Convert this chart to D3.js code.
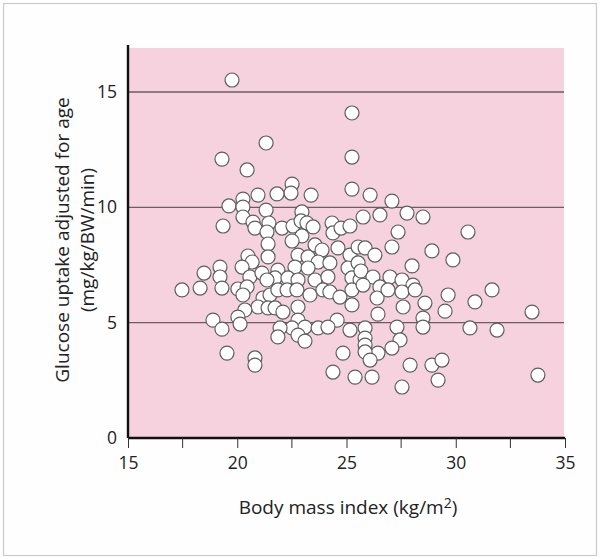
<!DOCTYPE html>
<html>
<head>
<meta charset="utf-8">
<script src="https://cdn.jsdelivr.net/npm/d3@7"></script>
<style>
  html, body { margin: 0; padding: 0; background: #ffffff; }
  svg { display: block; }
  text { font-family: "Open Sans", "DejaVu Sans", sans-serif; fill: #222; }
</style>
</head>
<body>
<script>
// Body mass index (kg/m²) of each subject
const bmi = [
  19.76, 25.25, 21.32, 25.25, 19.30, 20.45, 22.51, 22.46, 21.82, 20.95,
  23.38, 20.26, 25.25, 26.08, 27.08, 19.62, 20.26, 21.32, 22.96, 26.53,
  25.76, 27.77, 28.50, 20.26, 20.72, 21.45, 22.05, 22.55, 22.92, 23.19,
  23.47, 19.35, 24.34, 24.38, 24.75, 25.16, 20.81, 22.96, 30.56, 27.36,
  21.36, 22.51, 23.56, 23.88, 24.61, 25.16, 25.53, 21.41, 21.41, 22.78,
  23.24, 23.70, 24.24, 27.08, 25.85, 26.30, 28.91, 29.87, 20.49, 20.68,
  22.64, 21.86, 23.24, 25.07, 25.53, 21.73, 22.32, 22.78, 23.56, 24.15,
  25.25, 25.62, 28.00, 25.66, 26.21, 26.99, 27.54, 20.22, 19.21, 18.48,
  19.21, 20.58, 21.13, 21.36, 17.47, 18.30, 19.30, 20.03, 20.45, 20.26,
  21.18, 21.50, 21.86, 22.28, 22.73, 23.33, 23.92, 24.24, 24.70, 25.25,
  25.76, 26.53, 28.04, 26.40, 26.90, 27.54, 28.14, 29.65, 31.66, 30.88,
  20.95, 21.41, 21.73, 22.09, 22.78, 25.25, 27.59, 28.59, 29.51, 26.44,
  20.35, 20.03, 18.89, 22.78, 24.57, 28.50, 33.49, 20.13, 19.30, 22.51,
  21.96, 21.86, 23.10, 22.78, 23.10, 23.70, 24.15, 25.16, 28.50, 27.31,
  27.45, 25.85, 25.85, 25.85, 30.65, 31.89, 27.08, 26.44, 25.85, 26.08,
  24.84, 19.53, 20.81, 20.81, 24.38, 25.39, 26.17, 27.54, 27.91, 28.91,
  29.37, 29.19, 33.76
];

// Glucose uptake adjusted for age (mg/kg/BW/min), same subject order
const glucose = [
  15.52, 14.09, 12.79, 12.18, 12.09, 11.62, 11.01, 10.62, 10.58, 10.53,
  10.53, 10.36, 10.79, 10.53, 10.27, 10.06, 10.01, 9.88, 9.80, 9.67,
  9.58, 9.75, 9.58, 9.58, 9.36, 9.32, 9.10, 9.19, 9.41, 9.32,
  9.15, 9.19, 9.32, 8.89, 9.10, 9.19, 9.10, 8.76, 8.93, 8.93,
  8.93, 8.54, 8.37, 8.15, 8.24, 7.93, 8.28, 8.41, 7.85, 7.93,
  7.85, 7.63, 7.59, 8.28, 8.24, 7.93, 8.11, 7.72, 7.89, 7.63,
  7.41, 7.28, 7.37, 7.37, 7.59, 6.94, 6.94, 6.85, 6.85, 6.98,
  6.94, 6.85, 7.46, 7.24, 6.98, 6.98, 6.85, 7.41, 7.41, 7.15,
  6.98, 6.98, 7.15, 6.85, 6.42, 6.50, 6.50, 6.46, 6.55, 6.20,
  6.07, 6.20, 6.42, 6.42, 6.42, 6.20, 6.42, 6.33, 6.11, 6.42,
  6.63, 6.55, 6.63, 6.07, 6.42, 6.33, 6.42, 6.20, 6.42, 5.90,
  5.68, 5.64, 5.64, 5.46, 5.68, 5.77, 5.68, 5.85, 5.50, 5.37,
  5.55, 5.24, 5.11, 5.11, 5.11, 5.20, 5.46, 4.94, 4.72, 4.77,
  4.77, 4.38, 4.81, 4.46, 4.20, 4.77, 4.81, 4.68, 4.81, 4.81,
  4.25, 4.77, 4.33, 4.03, 4.77, 4.68, 3.90, 3.68, 3.73, 3.38,
  3.68, 3.68, 3.47, 3.16, 2.86, 2.64, 2.64, 2.21, 3.16, 3.16,
  3.38, 2.51, 2.73
];

const xTicks = [15, 20, 25, 30, 35];
const xMinorTicks = [17.5, 22.5, 27.5, 32.5];
const yTicks = [0, 5, 10, 15];
const gridValues = [5, 10, 15];

const W = 600, H = 559;
const plot = { left: 128, right: 564, top: 48, bottom: 438 };
const tickFont = 17.5, titleFont = 19;

const svg = d3.select("body").append("svg")
  .attr("width", W).attr("height", H);

// outer frame
svg.append("rect")
  .attr("x", 3.5).attr("y", 3.5)
  .attr("width", W - 7).attr("height", H - 7)
  .attr("fill", "#fefefe")
  .attr("stroke", "#c9c9c9").attr("stroke-width", 1.2);

const x = d3.scaleLinear().domain([15, 35]).range([plot.left, 565]);
const y = d3.scaleLinear().domain([0, 15]).range([plot.bottom, 92]);

// pink plotting area
svg.append("rect")
  .attr("x", plot.left).attr("y", plot.top)
  .attr("width", plot.right - plot.left).attr("height", plot.bottom - plot.top)
  .attr("fill", "#f6d2de");

// horizontal reference lines
svg.append("g").selectAll("line")
  .data(gridValues).join("line")
  .attr("x1", plot.left).attr("x2", plot.right)
  .attr("y1", d => y(d)).attr("y2", d => y(d))
  .attr("stroke", "#6e5c62").attr("stroke-width", 1.3);

// data points
svg.append("g").selectAll("circle")
  .data(bmi.map((b, i) => [b, glucose[i]]))
  .join("circle")
  .attr("cx", d => x(d[0])).attr("cy", d => y(d[1]))
  .attr("r", 7)
  .attr("fill", "#ffffff")
  .attr("stroke", "#5d5d5d").attr("stroke-width", 1.2);

// x axis
const xAxis = svg.append("g")
  .attr("transform", `translate(0,${plot.bottom})`)
  .call(d3.axisBottom(x).tickValues(xTicks).tickSize(10).tickPadding(9).tickFormat(d3.format("d")));
xAxis.select(".domain").attr("stroke", "#111").attr("stroke-width", 2.4)
  .attr("d", `M${plot.left},0H565`);
xAxis.selectAll(".tick line").attr("stroke", "#333").attr("stroke-width", 1);
xAxis.selectAll(".tick text").attr("font-size", tickFont).attr("font-family", '"Open Sans", sans-serif').attr("fill", "#222");

svg.append("g").attr("transform", `translate(0,${plot.bottom})`)
  .selectAll("line").data(xMinorTicks).join("line")
  .attr("x1", d => x(d)).attr("x2", d => x(d))
  .attr("y1", 0).attr("y2", 10)
  .attr("stroke", "#333").attr("stroke-width", 1);

// y axis
const yAxis = svg.append("g")
  .attr("transform", `translate(${plot.left},0)`)
  .call(d3.axisLeft(y).tickValues(yTicks).tickSize(0).tickPadding(11).tickFormat(d3.format("d")));
yAxis.select(".domain").attr("stroke", "#111").attr("stroke-width", 2.4)
  .attr("d", `M0,45V${plot.bottom}`);
yAxis.selectAll(".tick text").attr("font-size", tickFont).attr("font-family", '"Open Sans", sans-serif').attr("fill", "#222");

// axis titles
const xTitle = svg.append("text")
  .attr("x", 348).attr("y", 514)
  .attr("text-anchor", "middle")
  .attr("font-size", titleFont);
xTitle.append("tspan").text("Body mass index (kg/m");
xTitle.append("tspan").attr("dy", -6).attr("font-size", 14).text("2");
xTitle.append("tspan").attr("dy", 6).text(")");

const yTitle = svg.append("text")
  .attr("transform", "translate(69,240) rotate(-90)")
  .attr("text-anchor", "middle")
  .attr("font-size", titleFont);
yTitle.append("tspan").attr("x", 0).attr("dy", 0).text("Glucose uptake adjusted for age");
yTitle.append("tspan").attr("x", 0).attr("dy", 25).text("(mg/kg/BW/min)");
</script>
</body>
</html>
